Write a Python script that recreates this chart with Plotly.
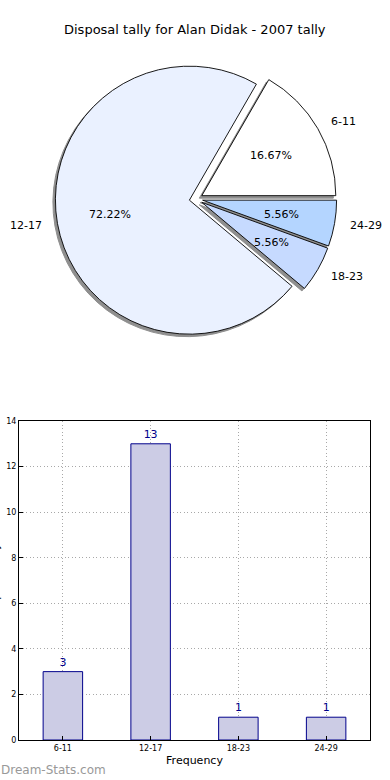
import math
import plotly.graph_objects as go

# ---- data ----
categories = ["6-11", "12-17", "18-23", "24-29"]
tallies = [3, 13, 1, 1]
pie_colors = ["#FFFFFF", "#EAF1FF", "#C6DAFF", "#B4D5FF"]
y_ticks = [0, 2, 4, 6, 8, 10, 12, 14]

title_text = "Disposal tally for Alan Didak - 2007 tally"

W, H = 390, 780
FONT = "DejaVu Sans"

# pie geometry (pixels)
cx, cy, r = 196.0, 199.0, 134.0
pull = 0.05
box = r * (2 + 2 * pull)


def px_to_paper(x, y):
    return x / W, 1 - y / H


x0, y0 = px_to_paper(cx - box / 2, cy + box / 2)
x1, y1 = px_to_paper(cx + box / 2, cy - box / 2)

# first slice (6-11) starts at 3 o'clock and runs counter-clockwise
first_frac = tallies[0] / sum(tallies)
rotation = 90 - 360 * first_frac

fig = go.Figure()

# shadow pie
sdx, sdy = -2.5 / W, -2.5 / H
fig.add_trace(go.Pie(
    labels=categories, values=tallies, sort=False,
    direction="counterclockwise", rotation=rotation,
    pull=[pull] * len(tallies),
    marker=dict(colors=["#8f8f8f"] * len(tallies), line=dict(color="#8f8f8f", width=1)),
    textinfo="none", hoverinfo="skip", showlegend=False,
    domain=dict(x=[x0 + sdx, x1 + sdx], y=[y0 + sdy, y1 + sdy]),
))

# main pie
fig.add_trace(go.Pie(
    labels=categories, values=tallies, sort=False,
    direction="counterclockwise", rotation=rotation,
    pull=[pull] * len(tallies),
    marker=dict(colors=pie_colors, line=dict(color="#000000", width=0.9)),
    textinfo="none", showlegend=False,
    domain=dict(x=[x0, x1], y=[y0, y1]),
))

annotations = []
total = sum(tallies)
cum = 0.0
for cat, v in zip(categories, tallies):
    frac = v / total
    theta = math.radians(360 * (cum + frac / 2))
    cum += frac
    ccx = cx + pull * r * math.cos(theta)
    ccy = cy - pull * r * math.sin(theta)
    # percent label
    px, py = ccx + 0.6 * r * math.cos(theta), ccy - 0.6 * r * math.sin(theta)
    ax, ay = px_to_paper(px, py)
    annotations.append(dict(x=ax, y=ay, xref="paper", yref="paper",
                            text=f"{frac * 100:.2f}%", showarrow=False,
                            xanchor="center", yanchor="middle",
                            font=dict(family=FONT, size=11, color="#000000")))
    # category label
    lx, ly = ccx + 1.1 * r * math.cos(theta), ccy - 1.1 * r * math.sin(theta)
    bx, by = px_to_paper(lx, ly)
    annotations.append(dict(x=bx, y=by, xref="paper", yref="paper",
                            text=cat, showarrow=False,
                            xanchor="left" if math.cos(theta) > 0 else "right",
                            yanchor="middle",
                            font=dict(family=FONT, size=11, color="#000000")))

# ---- bar chart ----
fig.add_trace(go.Bar(
    x=categories, y=tallies, width=0.45,
    marker=dict(color="#CCCCE5", line=dict(color="#00008B", width=1)),
    text=[str(t) for t in tallies], textposition="outside",
    textfont=dict(family=FONT, size=11, color="#00008B"),
    cliponaxis=False, showlegend=False,
    xaxis="x", yaxis="y",
))

bx0, by0 = px_to_paper(19, 740)
bx1, by1 = px_to_paper(370, 421)

grid_dash = "1px,2.5px"

fig.update_layout(
    width=W, height=H,
    margin=dict(l=0, r=0, t=0, b=0, autoexpand=False),
    paper_bgcolor="white", plot_bgcolor="white",
    font=dict(family=FONT, color="#000000"),
    xaxis=dict(domain=[bx0, bx1], type="category", range=[-0.5, 3.5],
               showline=True, mirror=True, linecolor="#000000", linewidth=1,
               showgrid=True, gridcolor="#a8a8a8", griddash=grid_dash, gridwidth=1,
               ticks="inside", ticklen=4, tickcolor="#000000",
               tickfont=dict(family=FONT, size=8, color="#000000"),
               title=dict(text="Frequency", font=dict(family=FONT, size=11), standoff=4),
               zeroline=False, fixedrange=True),
    yaxis=dict(domain=[by0, by1], range=[0, 14], tickvals=y_ticks,
               showline=True, mirror=True, linecolor="#000000", linewidth=1,
               showgrid=True, gridcolor="#a8a8a8", griddash=grid_dash, gridwidth=1,
               ticks="inside", ticklen=4, tickcolor="#000000",
               tickfont=dict(family=FONT, size=8, color="#000000"),
               zeroline=False, fixedrange=True),
    annotations=annotations + [
        dict(x=0.5, y=1 - 30 / H, xref="paper", yref="paper", text=title_text,
             showarrow=False, xanchor="center", yanchor="middle",
             font=dict(family=FONT, size=13, color="#000000")),
        dict(x=-5 / W, y=1 - 580 / H, xref="paper", yref="paper", text="Disposal tally",
             showarrow=False, textangle=-90, xanchor="center", yanchor="middle",
             font=dict(family=FONT, size=11, color="#000000")),
        dict(x=-1 / W, y=1 - 770 / H, xref="paper", yref="paper", text="Dream-Stats.com",
             showarrow=False, xanchor="left", yanchor="middle",
             font=dict(family=FONT, size=12, color="#999999")),
    ],
)

fig.write_html(
    "out.html",
    config={"displayModeBar": False},
    post_script="document.body.style.margin='0';document.body.style.overflow='hidden';",
)
